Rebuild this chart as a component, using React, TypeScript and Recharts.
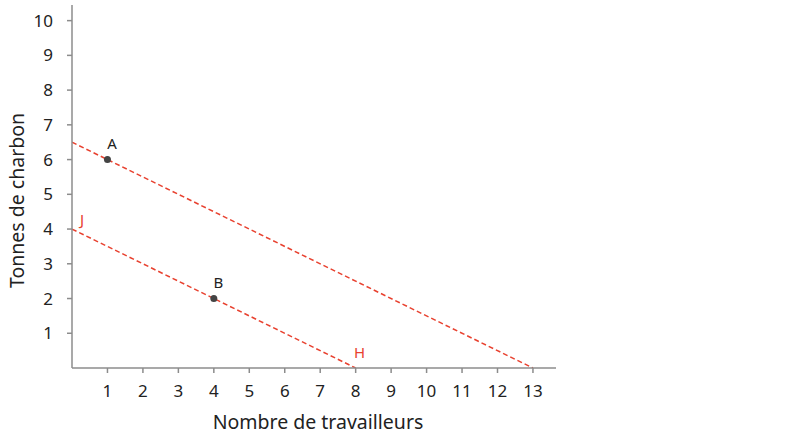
import { ComposedChart, Line, Scatter, XAxis, YAxis, ReferenceDot, LabelList } from 'recharts';

const xTicks = [1, 2, 3, 4, 5, 6, 7, 8, 9, 10, 11, 12, 13];
const yTicks = [1, 2, 3, 4, 5, 6, 7, 8, 9, 10];

// two straight budget lines, endpoints only
const upperLine = [
  { x: 0, y: 6.5 },
  { x: 13, y: 0 },
];
const lowerLine = [
  { x: 0, y: 4 },
  { x: 8, y: 0 },
];

const points = [
  { x: 1, y: 6, name: 'A' },
  { x: 4, y: 2, name: 'B' },
];

const lineLabels = [
  { x: 0, y: 4, name: 'J', dx: 10, dy: -10 },
  { x: 8, y: 0, name: 'H', dx: 4, dy: -16 },
];

const font = '"Noto Sans", sans-serif';
const red = '#e8412f';
const axisColor = '#8c8c8c';

const PointLabel = (props: any) => {
  const { x, y, value } = props;
  return (
    <text x={x + 9} y={y - 12} textAnchor="middle" dominantBaseline="central" fontSize={15} fill="#222" fontFamily={font}>
      {value}
    </text>
  );
};

export default function App() {
  return (
    <div style={{ position: 'absolute', left: 0, top: 0, background: '#fff' }}>
      <ComposedChart width={809} height={434} margin={{ top: 5, right: 253, bottom: 0, left: 0 }}>
        <XAxis
          type="number"
          dataKey="x"
          domain={[0, 13.65]}
          ticks={xTicks}
          height={66}
          stroke={axisColor}
          strokeWidth={1.5}
          tickSize={5}
          tickMargin={12}
          tick={{ fill: '#222', fontSize: 17, fontFamily: font }}
          allowDataOverflow
          label={{
            content: (p: any) => (
              <text
                x={p.viewBox.x + p.viewBox.width / 2 + 4}
                y={p.viewBox.y + 53}
                textAnchor="middle"
                dominantBaseline="central"
                fontSize={19.5}
                fill="#222"
                fontFamily={font}
              >
                Nombre de travailleurs
              </text>
            ),
          }}
        />
        <YAxis
          type="number"
          dataKey="y"
          domain={[0, 10.45]}
          ticks={yTicks}
          width={72}
          stroke={axisColor}
          strokeWidth={1.5}
          tickSize={5}
          tickMargin={14}
          tick={{ fill: '#222', fontSize: 17, fontFamily: font }}
          allowDataOverflow
          label={{
            content: (p: any) => {
              const cx = p.viewBox.x + 16;
              const cy = p.viewBox.y + p.viewBox.height / 2 + 14;
              return (
                <text
                  x={cx}
                  y={cy}
                  transform={`rotate(-90 ${cx} ${cy})`}
                  textAnchor="middle"
                  dominantBaseline="central"
                  fontSize={19.5}
                  fill="#222"
                  fontFamily={font}
                >
                  Tonnes de charbon
                </text>
              );
            },
          }}
        />
        <Line
          data={upperLine}
          dataKey="y"
          type="linear"
          stroke={red}
          strokeWidth={1.5}
          strokeDasharray="5 3"
          dot={false}
          isAnimationActive={false}
        />
        <Line
          data={lowerLine}
          dataKey="y"
          type="linear"
          stroke={red}
          strokeWidth={1.5}
          strokeDasharray="5 3"
          dot={false}
          isAnimationActive={false}
        />
        <Scatter data={points} dataKey="y" fill="#444" isAnimationActive={false} shape={(p: any) => <circle cx={p.cx} cy={p.cy} r={3.5} fill="#444" />}>
          <LabelList dataKey="name" content={PointLabel} />
        </Scatter>
        {lineLabels.map((l) => (
          <ReferenceDot
            key={l.name}
            x={l.x}
            y={l.y}
            r={0}
            stroke="none"
            fill="none"
            ifOverflow="visible"
            label={{
              content: (p: any) => (
                <text
                  x={p.viewBox.x + l.dx}
                  y={p.viewBox.y + l.dy}
                  textAnchor="middle"
                  dominantBaseline="central"
                  fontSize={15}
                  fill={red}
                  fontFamily={font}
                >
                  {l.name}
                </text>
              ),
            }}
          />
        ))}
      </ComposedChart>
    </div>
  );
}
